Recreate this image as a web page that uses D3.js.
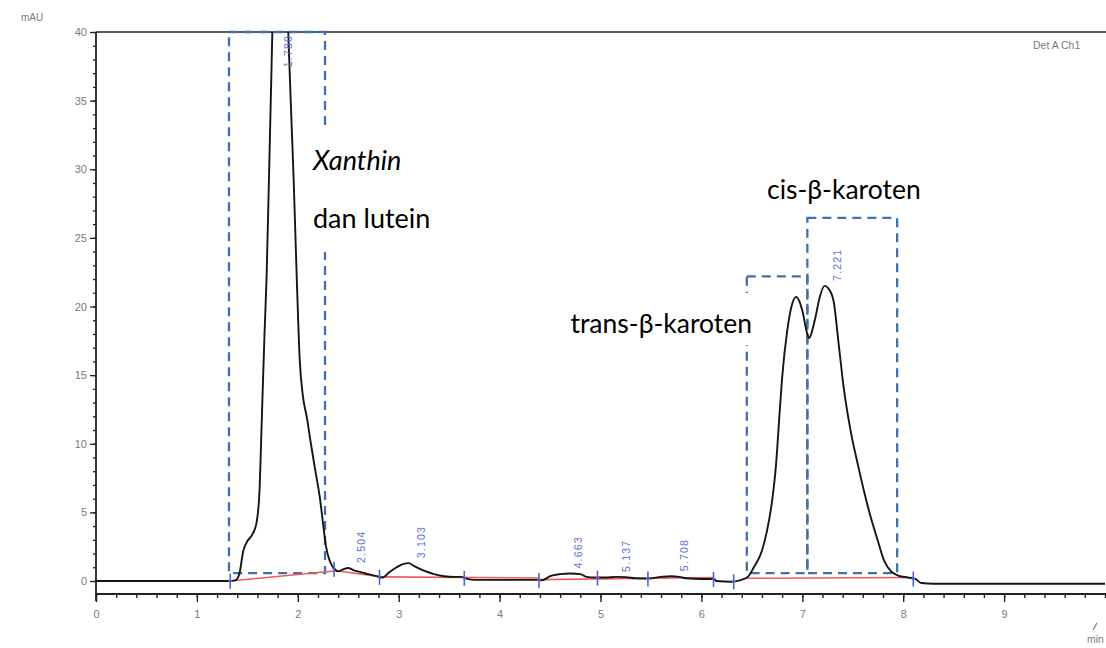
<!DOCTYPE html>
<html>
<head>
<meta charset="utf-8">
<script src="https://cdn.jsdelivr.net/npm/d3@7"></script>
<style>
  html, body { margin: 0; padding: 0; background: #fff; }
  svg { display: block; }
</style>
</head>
<body>
<svg id="chart" width="1106" height="648"></svg>
<script>
// ---------------- data ----------------
const times = [0, 0.5, 1.0, 1.3, 1.38, 1.42, 1.46, 1.50, 1.55, 1.59, 1.62, 1.64, 1.67, 1.69, 1.71, 1.74, 1.76, 1.80, 1.84, 1.88, 1.91, 1.94, 1.96, 1.99, 2.02, 2.05, 2.09, 2.13, 2.17, 2.22, 2.25, 2.28, 2.32, 2.36, 2.40, 2.45, 2.50, 2.55, 2.62, 2.70, 2.78, 2.84, 2.90, 2.98, 3.05, 3.10, 3.15, 3.25, 3.35, 3.45, 3.55, 3.62, 3.68, 3.75, 4.0, 4.38, 4.42, 4.50, 4.60, 4.70, 4.80, 4.86, 4.95, 5.05, 5.15, 5.25, 5.35, 5.47, 5.60, 5.70, 5.78, 5.85, 6.0, 6.12, 6.15, 6.30, 6.38, 6.42, 6.46, 6.52, 6.60, 6.65, 6.70, 6.74, 6.77, 6.80, 6.85, 6.90, 6.94, 6.97, 7.00, 7.05, 7.07, 7.10, 7.13, 7.17, 7.22, 7.26, 7.31, 7.36, 7.41, 7.48, 7.55, 7.61, 7.68, 7.75, 7.81, 7.88, 7.95, 8.05, 8.12, 8.18, 8.3, 9.0, 10.0];
const signal = [0, 0, 0, 0, 0.05, 0.5, 2.2, 2.9, 3.4, 4.2, 6.5, 11, 18, 22, 28, 37.5, 44, 52, 52, 46, 39, 33, 29, 22, 16, 13.5, 11.9, 10, 8.2, 6.0, 4.2, 2.5, 1.4, 0.9, 0.7, 0.85, 0.95, 0.8, 0.65, 0.5, 0.35, 0.25, 0.6, 1.0, 1.25, 1.3, 1.1, 0.75, 0.5, 0.35, 0.3, 0.3, 0.15, 0.08, 0.08, 0.08, 0.05, 0.35, 0.5, 0.55, 0.5, 0.3, 0.25, 0.25, 0.3, 0.28, 0.2, 0.18, 0.3, 0.35, 0.3, 0.2, 0.15, 0.15, 0.0, -0.05, 0.05, 0.15, 0.3, 1.0, 2.2, 3.65, 5.8, 8.5, 11.7, 14.8, 18.2, 20.2, 20.7, 20.4, 19.7, 18.0, 17.7, 18.3, 19.2, 20.6, 21.5, 21.3, 20.4, 17.3, 14.1, 10.9, 8.5, 6.6, 4.6, 2.9, 1.5, 0.7, 0.4, 0.25, 0.15, -0.15, -0.2, -0.2, -0.2];

// integration baselines (red) : pairs of [t, mAU]
const baselineStart = [[1.33, 0.0], [2.38, 0.75], [2.83, 0.3], [4.40, 0.1], [6.45, 0.2]];
const baselineEnd   = [[2.38, 0.75], [2.83, 0.3], [4.40, 0.22], [6.12, 0.25], [8.10, 0.25]];

// integration event markers (minutes)
const markerTimes = [1.33, 2.36, 2.81, 3.65, 4.39, 4.97, 5.47, 6.12, 6.32, 8.10];

// retention-time labels
const rtLabels = ["1.780", "2.504", "3.103", "4.663", "5.137", "5.708", "7.221"];
const rtApex   = [40, 0.95, 1.3, 0.55, 0.3, 0.35, 21.5];

const yTicks = [0, 5, 10, 15, 20, 25, 30, 35, 40];
const xTicks = [0, 1, 2, 3, 4, 5, 6, 7, 8, 9];

// annotation regions (minutes / mAU)
const regionNames = ["xanthin", "trans", "cis"];
const regionStart = [1.318, 6.45, 7.05];
const regionEnd   = [2.27, 7.05, 7.94];
const regionTop   = [40, 22.2, 26.45];
const regionBottom = 0.58;

// ---------------- drawing ----------------
const svg = d3.select("#chart");
const W = 1106, H = 648;

const x = d3.scaleLinear().domain([0, 10]).range([96, 1105]);
const y = d3.scaleLinear().domain([0, 40]).range([581, 32]);
const axisY = 594;

const grey = "#7a7a7a";
const tickFont = "'Liberation Sans', Arial, sans-serif";

// frame: top line
svg.append("line").attr("x1", 96).attr("x2", W).attr("y1", y(40)).attr("y2", y(40))
  .attr("stroke", "#222").attr("stroke-width", 1.6);

// y axis (minor)
const yMinor = svg.append("g").attr("transform", `translate(${x(0)},0)`)
  .call(d3.axisLeft(y).tickValues(d3.range(0, 41, 1)).tickSize(3).tickFormat(""));
yMinor.select(".domain").remove();
yMinor.selectAll("line").attr("stroke", "#222").attr("stroke-width", 1.3);
// y axis (major)
const yMajor = svg.append("g").attr("transform", `translate(${x(0)},0)`)
  .call(d3.axisLeft(y).tickValues(yTicks).tickSize(6).tickPadding(3));
yMajor.select(".domain").remove();
yMajor.selectAll("line").attr("stroke", "#222").attr("stroke-width", 1.3);
yMajor.selectAll("text").attr("fill", grey).style("font-family", tickFont).style("font-size", "11px");
svg.append("line").attr("x1", x(0)).attr("x2", x(0)).attr("y1", y(40)).attr("y2", 601)
  .attr("stroke", "#222").attr("stroke-width", 1.8);

// x axis
const xMinor = svg.append("g").attr("transform", `translate(0,${axisY})`)
  .call(d3.axisBottom(x).tickValues(d3.range(0, 10.01, 0.2)).tickSize(4).tickFormat(""));
xMinor.select(".domain").remove();
xMinor.selectAll("line").attr("stroke", "#222").attr("stroke-width", 1.4);
const xMajor = svg.append("g").attr("transform", `translate(0,${axisY})`)
  .call(d3.axisBottom(x).tickValues(xTicks).tickSize(8).tickPadding(8));
xMajor.select(".domain").remove();
xMajor.selectAll("line").attr("stroke", "#222").attr("stroke-width", 1.4);
xMajor.selectAll("text").attr("fill", grey).style("font-family", tickFont).style("font-size", "11px");
svg.append("line").attr("x1", x(0)).attr("x2", W).attr("y1", axisY).attr("y2", axisY)
  .attr("stroke", "#222").attr("stroke-width", 1.8);

// axis titles
svg.append("text").attr("x", 21).attr("y", 21).text("mAU")
  .attr("fill", grey).style("font-family", tickFont).style("font-size", "10px");
svg.append("text").attr("x", 1033).attr("y", 49).text("Det A Ch1")
  .attr("fill", grey).style("font-family", tickFont).style("font-size", "10.5px");
svg.append("text").attr("x", 1087).attr("y", 643).text("min")
  .attr("fill", grey).style("font-family", tickFont).style("font-size", "10.5px");
svg.append("line").attr("x1", 1093).attr("x2", 1097).attr("y1", 630).attr("y2", 623)
  .attr("stroke", grey).attr("stroke-width", 1.2);

// dashed annotation boxes
const dashColor = "#3f72a6";
const regions = regionNames.map((n, i) => ({ n, s: regionStart[i], e: regionEnd[i], t: regionTop[i] }));
const boxG = svg.append("g");
regions.forEach(r => {
  boxG.append("rect")
    .attr("x", x(r.s)).attr("y", y(r.t))
    .attr("width", x(r.e) - x(r.s)).attr("height", y(regionBottom) - y(r.t))
    .attr("fill", "none").attr("stroke", dashColor).attr("stroke-width", 2.3)
    .attr("stroke-dasharray", "9,6");
});

// white backgrounds behind the annotation text
svg.append("rect").attr("x", 304).attr("y", 129).attr("width", 140).attr("height", 123).attr("fill", "#fff");
svg.append("rect").attr("x", 560).attr("y", 293).attr("width", 197).attr("height", 52).attr("fill", "#fff");

// clip for the signal
svg.append("clipPath").attr("id", "plotclip").append("rect")
  .attr("x", x(0)).attr("y", y(40)).attr("width", W - x(0)).attr("height", axisY - y(40));

// red integration baselines
const redG = svg.append("g").attr("clip-path", "url(#plotclip)");
baselineStart.forEach((s, i) => {
  const e = baselineEnd[i];
  redG.append("line").attr("x1", x(s[0])).attr("y1", y(s[1])).attr("x2", x(e[0])).attr("y2", y(e[1]))
    .attr("stroke", "#ef5b5b").attr("stroke-width", 1.6);
});

// chromatogram
const pts = times.map((t, i) => [t, signal[i]]);
const line = d3.line().x(d => x(d[0])).y(d => y(d[1])).curve(d3.curveMonotoneX);
svg.append("path").datum(pts).attr("clip-path", "url(#plotclip)")
  .attr("d", line).attr("fill", "none").attr("stroke", "#151515").attr("stroke-width", 1.9)
  .attr("stroke-linejoin", "round");

// integration markers
const blue = "#4c66cf";
const interp = d3.scaleLinear().domain(times).range(signal);
markerTimes.forEach(t => {
  const cx = x(t), cy = y(interp(t));
  svg.append("line").attr("x1", cx).attr("x2", cx).attr("y1", cy - 7).attr("y2", cy + 8)
    .attr("stroke", blue).attr("stroke-width", 1.6);
  svg.append("line").attr("x1", cx - 2).attr("x2", cx + 2).attr("y1", cy).attr("y2", cy)
    .attr("stroke", blue).attr("stroke-width", 1.2);
});

// retention-time labels (rotated)
const rtTimes = rtLabels.map(Number);
rtLabels.forEach((lab, i) => {
  const lx = x(rtTimes[i]) + 16;
  let ly = y(rtApex[i]) - 5;
  let anchor = "start";
  if (rtApex[i] >= 40) { ly = y(40) + 3; anchor = "end"; }
  svg.append("text").attr("transform", `translate(${lx},${ly}) rotate(-90)`)
    .attr("text-anchor", anchor).text(lab)
    .attr("fill", "#5b6fd0").style("font-family", tickFont).style("font-size", "10.5px")
    .style("letter-spacing", "1.2px");
});

// annotation text
const annFont = "Lato, 'Open Sans', sans-serif";
svg.append("text").attr("x", 313).attr("y", 170).text("Xanthin")
  .style("font-family", annFont).style("font-style", "italic").style("font-size", "27px").attr("fill", "#000");
svg.append("text").attr("x", 313).attr("y", 228).text("dan lutein")
  .style("font-family", annFont).style("font-size", "27px").attr("fill", "#000");
svg.append("text").attr("x", 752).attr("y", 333).attr("text-anchor", "end").text("trans-β-karoten")
  .style("font-family", annFont).style("font-size", "26.5px").attr("fill", "#000");
svg.append("text").attr("x", 767).attr("y", 199).text("cis-β-karoten")
  .style("font-family", annFont).style("font-size", "26.5px").attr("fill", "#000");
</script>
</body>
</html>
